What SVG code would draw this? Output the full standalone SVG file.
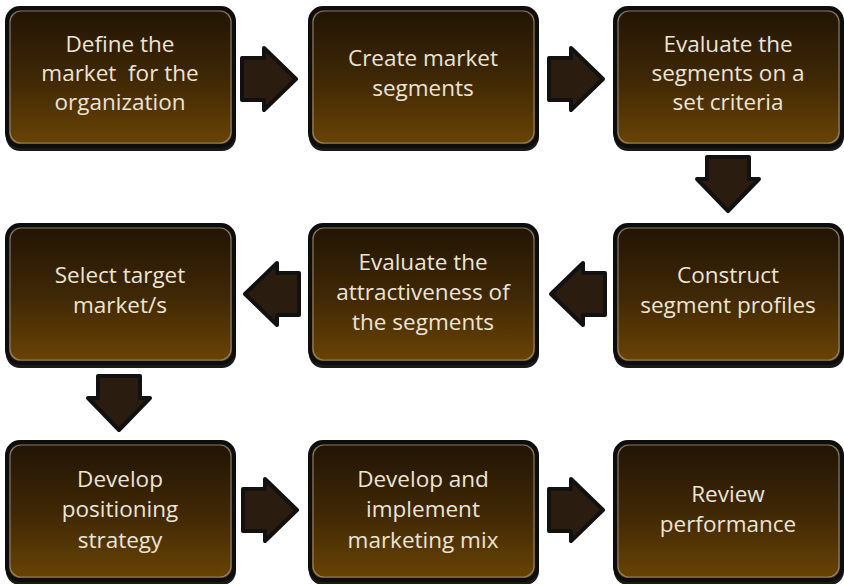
<svg xmlns="http://www.w3.org/2000/svg" width="844" height="584" viewBox="0 0 844 584">
<defs>
<linearGradient id="bg" x1="0" y1="0" x2="0" y2="1">
<stop offset="0" stop-color="#211405"/>
<stop offset="0.5" stop-color="#3e2705"/>
<stop offset="1" stop-color="#6a4404"/>
</linearGradient>
<path id="arr" d="M-27,-21 L-5,-21 L-5,-31 L27,0 L-5,31 L-5,21 L-27,21 Z" stroke-linejoin="round"/>
</defs>
<style>
.box-shadow{fill:#1a1a1a}
.box{fill:url(#bg);stroke:#0d0d0d;stroke-width:4}
.hl{fill:none;stroke:#9a9080;stroke-width:1.2;opacity:0.8}
.t{font-family:"Open Sans","Noto Sans",sans-serif;font-size:22.5px;fill:#ece4d4;text-anchor:middle;white-space:pre}
.a{fill:#2a1c0e;stroke:#111;stroke-width:4}
</style>
<g id="connectors">
<g transform="translate(269,79)"><use href="#arr" class="a"/></g>
<g transform="translate(576,79)"><use href="#arr" class="a"/></g>
<g transform="translate(728,184) rotate(90)"><use href="#arr" class="a"/></g>
<g transform="translate(578,294) rotate(180)"><use href="#arr" class="a"/></g>
<g transform="translate(272,294) rotate(180)"><use href="#arr" class="a"/></g>
<g transform="translate(119,403) rotate(90)"><use href="#arr" class="a"/></g>
<g transform="translate(270,510)"><use href="#arr" class="a"/></g>
<g transform="translate(576,510)"><use href="#arr" class="a"/></g>
</g>
<g id="n1">
<rect x="6" y="11" width="230" height="140" rx="14" class="box-shadow"/>
<rect x="7" y="8" width="227" height="138" rx="13" class="box"/>
<rect x="10" y="11" width="221" height="132" rx="11" class="hl"/>
<text class="t" x="120" y="52">Define the</text>
<text class="t" x="120" y="81" xml:space="preserve">market  for the</text>
<text class="t" x="120" y="110">organization</text>
</g>
<g id="n2">
<rect x="309" y="11" width="230" height="140" rx="14" class="box-shadow"/>
<rect x="310" y="8" width="227" height="138" rx="13" class="box"/>
<rect x="313" y="11" width="221" height="132" rx="11" class="hl"/>
<text class="t" x="423" y="66">Create market</text>
<text class="t" x="423" y="96">segments</text>
</g>
<g id="n3">
<rect x="614" y="11" width="230" height="140" rx="14" class="box-shadow"/>
<rect x="615" y="8" width="227" height="138" rx="13" class="box"/>
<rect x="618" y="11" width="221" height="132" rx="11" class="hl"/>
<text class="t" x="728" y="52">Evaluate the</text>
<text class="t" x="728" y="81">segments on a</text>
<text class="t" x="728" y="110">set criteria</text>
</g>
<g id="n4">
<rect x="614" y="228" width="230" height="140" rx="14" class="box-shadow"/>
<rect x="615" y="225" width="227" height="138" rx="13" class="box"/>
<rect x="618" y="228" width="221" height="132" rx="11" class="hl"/>
<text class="t" x="728" y="283">Construct</text>
<text class="t" x="728" y="313">segment profiles</text>
</g>
<g id="n5">
<rect x="309" y="228" width="230" height="140" rx="14" class="box-shadow"/>
<rect x="310" y="225" width="227" height="138" rx="13" class="box"/>
<rect x="313" y="228" width="221" height="132" rx="11" class="hl"/>
<text class="t" x="423" y="270">Evaluate the</text>
<text class="t" x="423" y="300">attractiveness of</text>
<text class="t" x="423" y="330">the segments</text>
</g>
<g id="n6">
<rect x="6" y="228" width="230" height="140" rx="14" class="box-shadow"/>
<rect x="7" y="225" width="227" height="138" rx="13" class="box"/>
<rect x="10" y="228" width="221" height="132" rx="11" class="hl"/>
<text class="t" x="120" y="283">Select target</text>
<text class="t" x="120" y="313">market/s</text>
</g>
<g id="n7">
<rect x="6" y="445" width="230" height="140" rx="14" class="box-shadow"/>
<rect x="7" y="442" width="227" height="138" rx="13" class="box"/>
<rect x="10" y="445" width="221" height="132" rx="11" class="hl"/>
<text class="t" x="120" y="487">Develop</text>
<text class="t" x="120" y="517">positioning</text>
<text class="t" x="120" y="548">strategy</text>
</g>
<g id="n8">
<rect x="309" y="445" width="230" height="140" rx="14" class="box-shadow"/>
<rect x="310" y="442" width="227" height="138" rx="13" class="box"/>
<rect x="313" y="445" width="221" height="132" rx="11" class="hl"/>
<text class="t" x="423" y="487">Develop and</text>
<text class="t" x="423" y="517">implement</text>
<text class="t" x="423" y="548">marketing mix</text>
</g>
<g id="n9">
<rect x="614" y="445" width="230" height="140" rx="14" class="box-shadow"/>
<rect x="615" y="442" width="227" height="138" rx="13" class="box"/>
<rect x="618" y="445" width="221" height="132" rx="11" class="hl"/>
<text class="t" x="728" y="502">Review</text>
<text class="t" x="728" y="532">performance</text>
</g>
</svg>
